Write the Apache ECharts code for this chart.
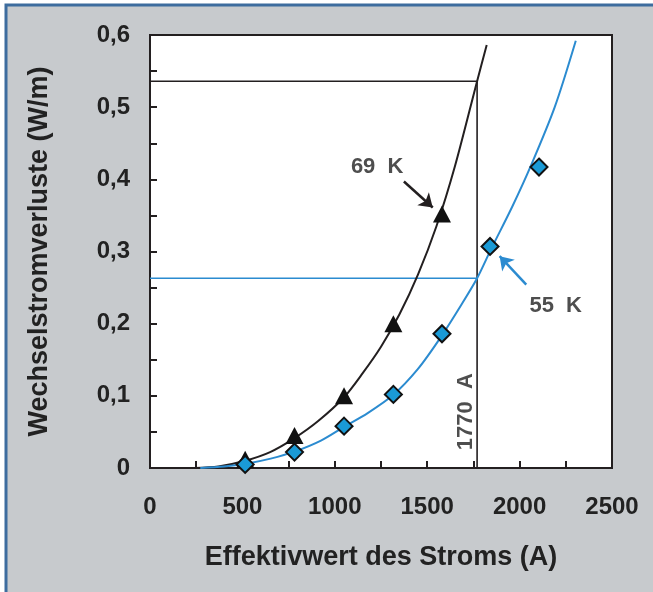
<!DOCTYPE html>
<html>
<head>
<meta charset="utf-8">
<script src="https://cdn.jsdelivr.net/npm/echarts@6/dist/echarts.min.js"></script>
<style>
html,body{margin:0;padding:0;background:#fff;}
#chart{width:653px;height:592px;}
</style>
</head>
<body>
<div id="chart"></div>
<script>
// ---- data ----
const xTicks = [0, 500, 1000, 1500, 2000, 2500];
const yTicks = [0, 0.1, 0.2, 0.3, 0.4, 0.5, 0.6];
const currents = [515, 782, 1050, 1317, 1580, 1840, 2105];
const loss69K = [0.012, 0.045, 0.1, 0.2, 0.352];
const loss55K = [0.005, 0.022, 0.058, 0.102, 0.186, 0.307, 0.417];
const curve69K = [[240,0],[370,0.002],[515,0.01],[650,0.022],[780,0.041],[910,0.065],[1050,0.098],[1150,0.131],[1250,0.168],[1350,0.213],[1450,0.268],[1550,0.335],[1650,0.418],[1770,0.536],[1822,0.586]];
const curve55K = [[272,0],[400,0.002],[520,0.006],[653,0.013],[785,0.023],[925,0.038],[1050,0.057],[1178,0.076],[1315,0.101],[1449,0.137],[1570,0.18],[1684,0.226],[1770,0.263],[1845,0.303],[1960,0.362],[2063,0.42],[2190,0.5],[2304,0.592]];
const refCurrent = 1770;
const refLoss69K = 0.536;
const refLoss55K = 0.263;
const label69 = {text: '69  K', at: [1087, 0.417]};
const label55 = {text: '55  K', at: [2053, 0.225]};
const labelRef = {text: '1770  A', at: [1708, 0.078]};
const arrow69 = [[1374, 0.397], [1530, 0.361]];
const arrow55 = [[2036, 0.254], [1892, 0.2935]];

const FONT = '"Liberation Sans", Arial, Helvetica, sans-serif';
const TXT = '#222222';
const BLUE = '#2b8bd0';
const BLACK = '#231f20';

const chart = echarts.init(document.getElementById('chart'), null, {renderer: 'canvas'});
const fmtY = v => v === 0 ? '0' : v.toFixed(1).replace('.', ',');
const fmtX = v => String(v);

chart.setOption({
  animation: false,
  backgroundColor: '#ffffff',
  graphic: [{
    type: 'rect', z: -10, silent: true,
    shape: {x: 6, y: 5, width: 700, height: 640},
    style: {fill: '#c7cacd', stroke: '#3d6c9e', lineWidth: 3}
  }],
  grid: {left: 150, top: 35, right: 41, bottom: 124, show: true, backgroundColor: '#ffffff', borderColor: BLACK, borderWidth: 2},
  xAxis: {
    type: 'value', min: xTicks[0], max: xTicks[xTicks.length - 1], interval: 500,
    name: 'Effektivwert des Stroms (A)', nameLocation: 'middle', nameGap: 76,
    nameTextStyle: {fontFamily: FONT, fontWeight: 'bold', fontSize: 27, color: TXT},
    axisLine: {show: true, lineStyle: {color: BLACK, width: 2}},
    axisTick: {show: true, inside: true, length: 7, lineStyle: {color: BLACK, width: 2}},
    minorTick: {show: true, splitNumber: 2, length: 7, lineStyle: {color: BLACK, width: 2}},
    splitLine: {show: false},
    axisLabel: {margin: 27, fontFamily: FONT, fontWeight: 'bold', fontSize: 24, color: TXT, formatter: fmtX}
  },
  yAxis: {
    type: 'value', min: yTicks[0], max: yTicks[yTicks.length - 1], interval: 0.1,
    name: 'Wechselstromverluste (W/m)', nameLocation: 'middle', nameGap: 97,
    nameTextStyle: {fontFamily: FONT, fontWeight: 'bold', fontSize: 27, color: TXT},
    axisLine: {show: true, lineStyle: {color: BLACK, width: 2}},
    axisTick: {show: true, inside: true, length: 7, lineStyle: {color: BLACK, width: 2}},
    minorTick: {show: true, splitNumber: 2, length: 7, lineStyle: {color: BLACK, width: 2}},
    splitLine: {show: false},
    axisLabel: {margin: 20, fontFamily: FONT, fontWeight: 'bold', fontSize: 24, color: TXT, formatter: fmtY}
  },
  series: [
    {type: 'line', data: [[0, refLoss69K], [refCurrent, refLoss69K], [refCurrent, 0]], symbol: 'none', lineStyle: {color: BLACK, width: 1.6}, silent: true},
    {type: 'line', data: [[0, refLoss55K], [refCurrent, refLoss55K]], symbol: 'none', lineStyle: {color: BLUE, width: 1.6}, silent: true},
    {type: 'line', data: curve69K, smooth: 0.3, symbol: 'none', lineStyle: {color: BLACK, width: 2}, silent: true},
    {type: 'line', data: curve55K, smooth: 0.3, symbol: 'none', lineStyle: {color: BLUE, width: 2}, silent: true},
    {type: 'scatter', data: currents.slice(0, loss69K.length).map((x, i) => [x, loss69K[i]]), symbol: 'triangle', symbolSize: [18, 17], itemStyle: {color: '#111111', opacity: 1}, z: 5},
    {type: 'scatter', data: currents.map((x, i) => [x, loss55K[i]]), symbol: 'diamond', symbolSize: 17, itemStyle: {color: '#1a9ad6', borderColor: '#111111', borderWidth: 2, opacity: 1}, z: 5},
    {type: 'scatter', symbolSize: 0, silent: true, z: 6,
      data: [
        {value: label69.at, label: {show: true, position: 'right', distance: 0, formatter: label69.text}},
        {value: label55.at, label: {show: true, position: 'right', distance: 0, formatter: label55.text}},
        {value: labelRef.at, label: {show: true, position: 'inside', rotate: 90, formatter: labelRef.text}}
      ],
      label: {fontFamily: FONT, fontWeight: 'bold', fontSize: 22, color: TXT}
    },
    {type: 'line', data: [], silent: true,
      markLine: {
        silent: true, animation: false, symbol: ['none', 'arrow'], symbolSize: 13,
        label: {show: false},
        data: [
          [{coord: arrow69[0], lineStyle: {color: BLACK, width: 2.5, type: 'solid'}}, {coord: arrow69[1]}],
          [{coord: arrow55[0], lineStyle: {color: BLUE, width: 2.5, type: 'solid'}}, {coord: arrow55[1]}]
        ]
      }
    }
  ]
});
</script>
</body>
</html>
